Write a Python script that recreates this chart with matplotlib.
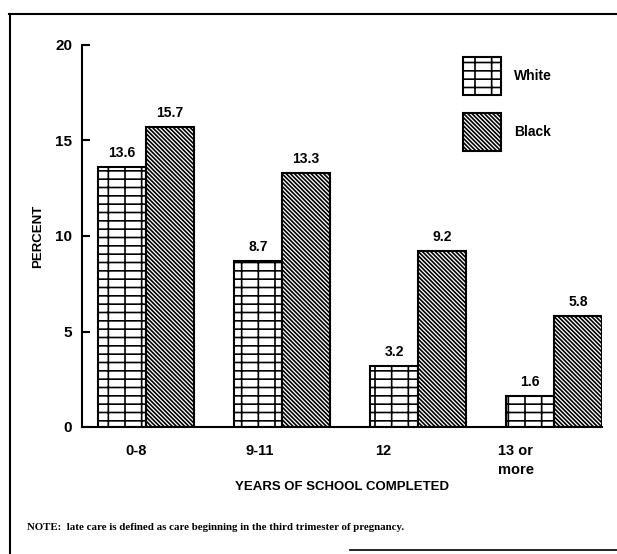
import matplotlib
matplotlib.use("Agg")
import matplotlib.pyplot as plt
from matplotlib.lines import Line2D
import numpy as np

categories = ["0-8", "9-11", "12", "13 or\nmore"]
white = [13.6, 8.7, 3.2, 1.6]
black = [15.7, 13.3, 9.2, 5.8]
series_names = ["White", "Black"]
yticks = [0, 5, 10, 15, 20]

plt.rcParams['font.family'] = ['Liberation Sans', 'DejaVu Sans']
plt.rcParams['hatch.linewidth'] = 1.2

fig = plt.figure(figsize=(6.17, 5.54), dpi=100)
ax = fig.add_axes([82/617, 127/554, 520/617, 382/554])

x = np.arange(len(categories))
w = 48/136
b1 = ax.bar(x - w/2, white, w, color='white', edgecolor='black', linewidth=1.5,
            hatch='+-', label=series_names[0])
b2 = ax.bar(x + w/2, black, w, color='white', edgecolor='black', linewidth=1.5,
            hatch='\\\\\\\\\\\\\\\\', label=series_names[1])

for bars, vals in ((b1, white), (b2, black)):
    for r, v in zip(bars, vals):
        ax.annotate(f"{v}", (r.get_x() + r.get_width()/2, v), xytext=(0, 5),
                    textcoords='offset points', ha='center', va='bottom',
                    fontsize=10, fontweight='bold')

ax.set_xlim(-64/136, 3 + 48/136)
ax.set_ylim(0, 20)
ax.set_yticks(yticks)
ax.set_yticklabels([str(t) for t in yticks], fontsize=11, fontweight='bold')
label_offsets = [-10/136, -22/136, -35/136, -38/136]
ax.set_xticks(x + np.array(label_offsets))
ax.set_xticklabels(categories, fontsize=10.5, fontweight='bold', linespacing=1.45)
ax.tick_params(axis='x', length=0, pad=12)
ax.tick_params(axis='y', direction='in', length=6, width=1.5, pad=7)
for s in ('top', 'right'):
    ax.spines[s].set_visible(False)
for s in ('left', 'bottom'):
    ax.spines[s].set_linewidth(1.5)
ax.set_ylabel("PERCENT", fontsize=9.5, fontweight='bold', labelpad=8)
ax.set_xlabel("YEARS OF SCHOOL COMPLETED", fontsize=9.5, fontweight='bold', labelpad=3)

fs = 10
leg = ax.legend(loc='upper left', bbox_to_anchor=((463-82)/520, 1 - (57-45)/382),
                frameon=False, prop={'weight': 'bold', 'size': fs},
                handlelength=2.75, handleheight=3.84, labelspacing=1.3, handletextpad=0.9,
                borderpad=0, borderaxespad=0)
for h in leg.legend_handles:
    h.set_linewidth(1.5)

# page frame
fig.add_artist(Line2D([9.5/617, 9.5/617], [0, 1 - 14/554], transform=fig.transFigure, color='black', lw=1.5))
fig.add_artist(Line2D([9/617, 1], [1 - 14/554, 1 - 14/554], transform=fig.transFigure, color='black', lw=1.5))
fig.add_artist(Line2D([350/617, 1], [4/554, 4/554], transform=fig.transFigure, color='black', lw=1.2))

fig.text(27/617, 1 - 527/554, "NOTE:  late care is defined as care beginning in the third trimester of pregnancy.",
         family=['Liberation Serif', 'DejaVu Serif'], fontsize=7.8, fontweight='bold', va='center', ha='left')

fig.savefig("out.png", dpi=100)
